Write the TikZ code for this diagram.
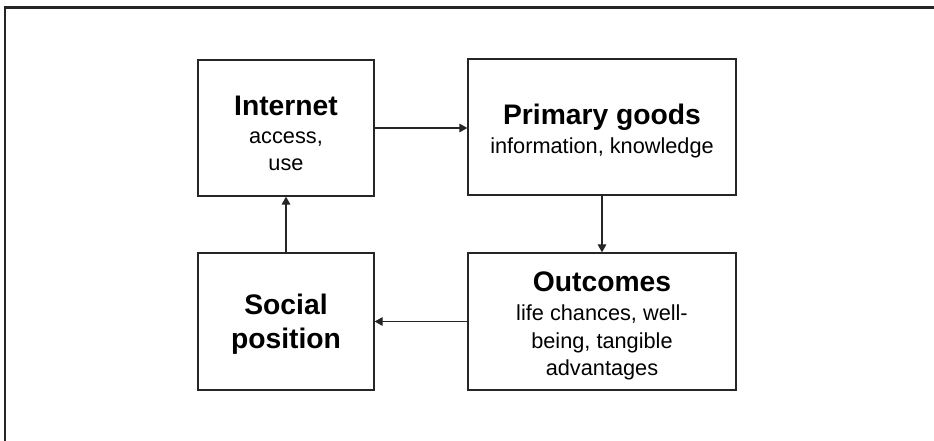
\documentclass[tikz,border=0pt]{standalone}
\usepackage{fontspec}
\setmainfont{Liberation Sans}
\usetikzlibrary{arrows.meta}
\definecolor{ink}{HTML}{262626}
\begin{document}
\begin{tikzpicture}[x=0.75pt,y=-0.75pt,
  frameline/.style={draw=ink,line width=1.9pt},
  boxnode/.style={draw=ink,line width=1pt,rectangle,inner sep=0pt},
  leftbox/.style={boxnode,minimum width=132pt},
  rightbox/.style={boxnode,minimum width=201pt},
  txt/.style={align=center,inner sep=0pt,font=\fontsize{16.3pt}{20.5pt}\selectfont},
  ttl/.style={font=\fontsize{21.2pt}{25.5pt}\selectfont\bfseries},
  arr/.style={draw=ink,line width=0.8pt,-{Triangle[length=6pt,width=6.5pt]}}]
\useasboundingbox (0,0) rectangle (934,441);
\coordinate (fa) at (5,441);
\coordinate (fb) at (5,7.5);
\coordinate (fc) at (934,7.5);
\draw[frameline] (fa) -- (fb) -- (fc);
% boxes
\node[leftbox,minimum height=102pt] (internet) at (286,128) {};
\node[rightbox,minimum height=102pt] (primary) at (602,127) {};
\node[leftbox,minimum height=102.75pt] (social) at (286,321.5) {};
\node[rightbox,minimum height=102.75pt] (outcomes) at (602,321.5) {};
% texts
\node[txt] (tinternet) at (286,133.5) {{\fontsize{21.2pt}{20.5pt}\selectfont\bfseries Internet}\\ access,\\ use};
\node[txt] (tprimary) at (602,130.75) {{\fontsize{21.2pt}{20.5pt}\selectfont\bfseries Primary goods}\\[1.5pt] information, knowledge};
\node[txt,ttl,align=center] (tsocial) at (286,324) {Social\\ position};
\node[txt] (toutcomes) at (602,325.75) {{\fontsize{21.2pt}{20.5pt}\selectfont\bfseries Outcomes}\\[1.5pt] life chances, well-\\ being, tangible\\ advantages};
% arrows
\draw[arr] (internet.east) -- (internet.east -| primary.west);
\draw[arr] (primary.south) -- (outcomes.north);
\draw[arr] (outcomes.west) -- (social.east);
\draw[arr] (social.north) -- (internet.south);
\end{tikzpicture}
\end{document}
